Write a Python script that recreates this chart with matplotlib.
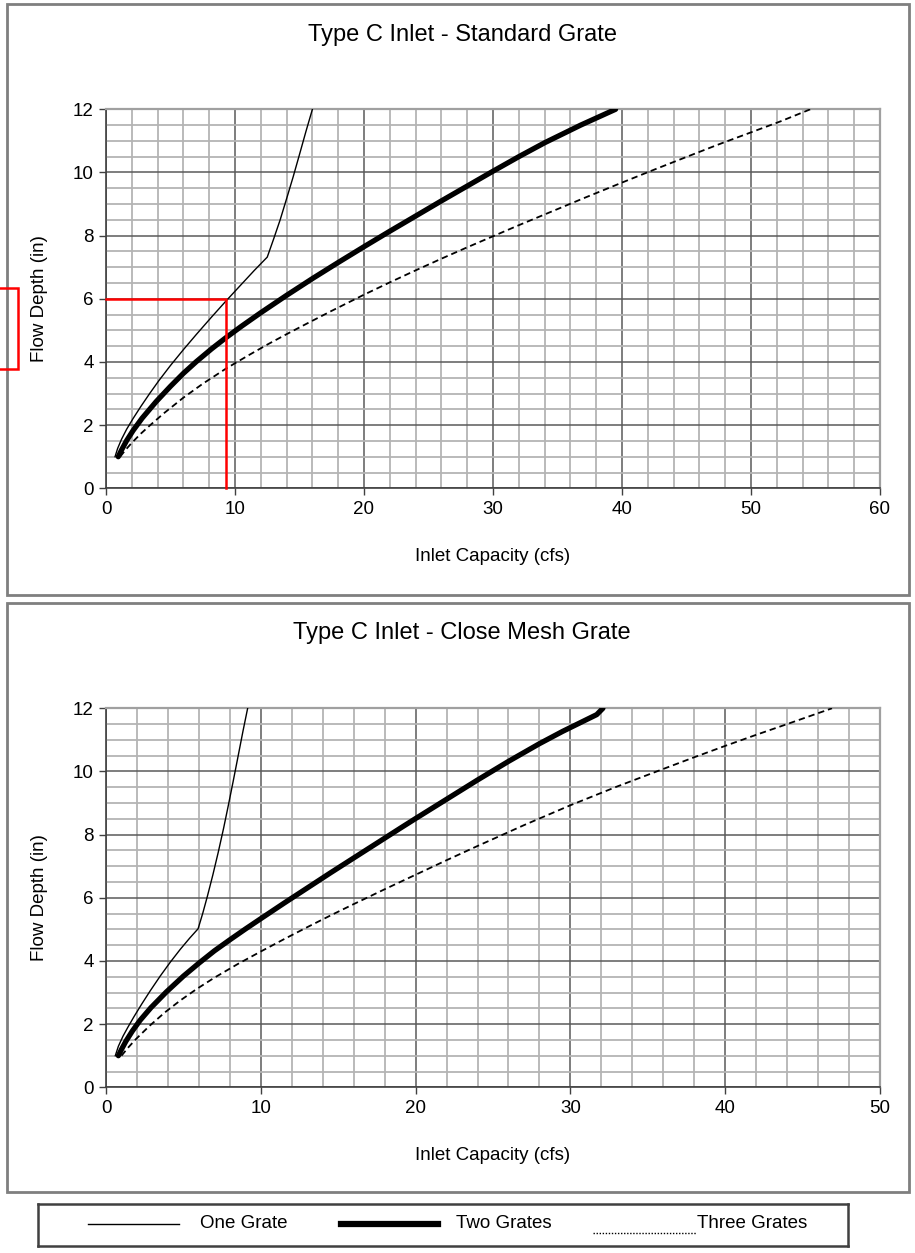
import numpy as np
import matplotlib
matplotlib.use("Agg")
import matplotlib.pyplot as plt
from matplotlib.patches import Rectangle
from matplotlib.lines import Line2D
from matplotlib.ticker import MultipleLocator

plt.rcParams['font.family'] = ['Liberation Sans', 'DejaVu Sans']

# --- Data (capacity in cfs, depth in inches) ---
# Standard grate
std_one_q = [0.7, 0.9, 1.2, 1.6, 2.1, 2.7, 3.4, 4.1, 5.0, 6.0, 7.0, 8.2, 9.3, 10.5, 11.5,
             12.5, 13.0, 13.5, 14.0, 14.5, 15.0, 15.5, 16.0]
std_one_d = [1.0, 1.26, 1.55, 1.87, 2.21, 2.59, 3.01, 3.41, 3.89, 4.39, 4.87, 5.43, 5.93, 6.46, 6.9,
             7.32, 7.9, 8.5, 9.17, 9.85, 10.57, 11.3, 12.0]
std_two_q = [0.95, 1.2, 1.6, 2.1, 2.8, 3.9, 5.0, 6.0, 7.0, 8.2, 9.3, 10.5, 12.0, 14.0, 16.0,
             18.0, 20.0, 22.0, 24.0, 26.0, 28.0, 30.0, 32.0, 34.0, 36.8, 39.5]
std_two_d = [1.0, 1.21, 1.51, 1.83, 2.22, 2.75, 3.23, 3.64, 4.01, 4.42, 4.77, 5.13, 5.56, 6.11, 6.64,
             7.15, 7.65, 8.14, 8.62, 9.1, 9.57, 10.04, 10.5, 10.94, 11.5, 12.0]
std_three_q = [1.1, 1.5, 2.0, 2.7, 3.4, 4.5, 6.0, 7.5, 9.3, 11.0, 12.5, 14.0, 15.5, 17.5, 20.0,
               22.0, 24.0, 26.0, 28.0, 30.0, 32.0, 34.0, 37.0, 40.0, 42.5, 45.3, 47.5, 50.0, 52.3, 54.6]
std_three_d = [1.0, 1.21, 1.44, 1.73, 1.99, 2.38, 2.87, 3.31, 3.79, 4.2, 4.55, 4.88, 5.2, 5.62, 6.13,
               6.52, 6.9, 7.27, 7.63, 7.98, 8.33, 8.67, 9.18, 9.68, 10.09, 10.54, 10.89, 11.27, 11.62, 12.0]

# Close mesh grate
mesh_one_q = [0.6, 0.8, 1.1, 1.4, 1.8, 2.3, 2.85, 3.5, 4.15, 4.8, 5.4, 5.95,
              6.25, 6.55, 6.9, 7.25, 7.6, 7.9, 8.2, 8.5, 8.85, 9.15]
mesh_one_d = [1.0, 1.3, 1.62, 1.89, 2.23, 2.63, 3.05, 3.52, 3.96, 4.37, 4.72, 5.02,
              5.51, 6.05, 6.72, 7.44, 8.21, 8.92, 9.65, 10.4, 11.28, 12.0]
mesh_two_q = [0.8, 1.0, 1.3, 1.7, 2.2, 2.9, 3.9, 5.0, 6.0, 7.0, 8.0, 9.0, 10.0, 11.5, 13.0,
              14.5, 16.0, 17.5, 19.0, 20.0, 22.0, 24.0, 26.0, 28.0, 29.5, 31.2, 31.7, 31.9, 32.1]
mesh_two_d = [1.0, 1.2, 1.47, 1.78, 2.12, 2.52, 3.02, 3.52, 3.93, 4.32, 4.67, 5.01, 5.34, 5.83, 6.31,
              6.79, 7.26, 7.73, 8.2, 8.51, 9.12, 9.73, 10.32, 10.88, 11.27, 11.68, 11.8, 11.9, 12.0]
mesh_three_q = [1.0, 1.4, 1.9, 2.8, 3.8, 4.8, 5.85, 7.0, 8.5, 10.0, 11.5, 13.0, 14.5, 16.0, 18.0,
                20.0, 22.0, 24.0, 27.0, 30.0, 33.0, 36.0, 38.0, 40.0, 42.0, 44.0, 46.9]
mesh_three_d = [1.0, 1.24, 1.51, 1.94, 2.37, 2.75, 3.11, 3.47, 3.9, 4.3, 4.69, 5.07, 5.44, 5.8, 6.27,
                6.73, 7.19, 7.64, 8.3, 8.93, 9.52, 10.08, 10.45, 10.81, 11.16, 11.5, 12.0]

# worked example marked in red on the standard grate chart
example_q = 9.3
example_d = 6.0

titles = ["Type C Inlet - Standard Grate", "Type C Inlet - Close Mesh Grate"]
x_max = [60, 50]
legend_labels = ["One Grate", "Two Grates", "Three Grates"]

W, H = 915, 1253
fig = plt.figure(figsize=(W / 100, H / 100), dpi=100)


def fx(px):
    return px / W


def fy(py):
    return 1 - py / H


FS = 13.5

# panel frames
for top, bot in [(4, 595), (603, 1192)]:
    fig.patches.append(Rectangle((fx(7), fy(bot)), fx(909) - fx(7), fy(top) - fy(bot),
                                 transform=fig.transFigure, fill=False,
                                 edgecolor='#7f7f7f', lw=2))

panels = [
    (std_one_q, std_one_d, std_two_q, std_two_d, std_three_q, std_three_d),
    (mesh_one_q, mesh_one_d, mesh_two_q, mesh_two_d, mesh_three_q, mesh_three_d),
]
ax_tops = [109.3, 708.3]
title_y = [35, 633]

for i, (q1, d1, q2, d2, q3, d3) in enumerate(panels):
    t = ax_tops[i]
    b = t + 379
    ax = fig.add_axes([fx(106), fy(b), fx(880) - fx(106), fy(t) - fy(b)])
    ax.set_xlim(0, x_max[i])
    ax.set_ylim(0, 12)
    ax.xaxis.set_major_locator(MultipleLocator(10))
    ax.xaxis.set_minor_locator(MultipleLocator(2))
    ax.yaxis.set_major_locator(MultipleLocator(2))
    ax.yaxis.set_minor_locator(MultipleLocator(0.5))
    ax.grid(which='minor', color='#b4b4b4', lw=1.3)
    ax.grid(which='major', color='#5a5a5a', lw=1.1)
    ax.set_axisbelow(True)
    ax.tick_params(which='major', length=5, width=1, color='#404040',
                   labelsize=FS, pad=4)
    ax.tick_params(which='minor', length=0)
    for side in ['left', 'bottom']:
        ax.spines[side].set_color('#404040')
        ax.spines[side].set_linewidth(1.2)
    for side in ['top', 'right']:
        ax.spines[side].set_color('#a0a0a0')
        ax.spines[side].set_linewidth(1.6)

    ax.plot(q1, d1, color='black', lw=1.0, zorder=3)
    ax.plot(q2, d2, color='black', lw=3.8, solid_capstyle='round',
            solid_joinstyle='round', zorder=3)
    ax.plot(q3, d3, color='black', lw=1.3, dashes=(3.5, 2.2), zorder=3)

    if i == 0:
        ax.plot([0, example_q, example_q], [example_d, example_d, 0],
                color='#ff0000', lw=1.8, zorder=4, clip_on=False)

    ax.set_xlabel("Inlet Capacity (cfs)", fontsize=FS)
    ax.xaxis.set_label_coords(0.5, -(556 - 488) / 379)
    ax.xaxis.label.set_va('center')
    ax.set_ylabel("Flow Depth (in)", fontsize=FS)
    ax.yaxis.set_label_coords(-(106 - 40) / 774, 0.5)
    ax.yaxis.label.set_va('center')

    fig.text(fx(462), fy(title_y[i]), titles[i], fontsize=17,
             ha='center', va='center')

# red callout box clipped at the left edge
fig.patches.append(Rectangle((fx(-4), fy(369)), fx(22), fy(288) - fy(369),
                             transform=fig.transFigure, fill=False,
                             edgecolor='#ff0000', lw=1.8))

# legend box
lax = fig.add_axes([fx(38), fy(1246), fx(848) - fx(38), fy(1204) - fy(1246)])
lax.set_xlim(38, 848)
lax.set_ylim(42, 0)
lax.set_xticks([])
lax.set_yticks([])
for s in lax.spines.values():
    s.set_color('#404040')
    s.set_linewidth(1.8)
lax.add_line(Line2D([88, 179], [20, 20], color='black', lw=1.0))
lax.text(200, 20, legend_labels[0], fontsize=FS, va='center', ha='left')
lax.add_line(Line2D([341, 438], [20, 20], color='black', lw=4.5))
lax.text(456, 20, legend_labels[1], fontsize=FS, va='center', ha='left')
lax.add_line(Line2D([593, 696], [29, 29], color='black', lw=1.0, dashes=(1, 1.2)))
lax.text(697, 20, legend_labels[2], fontsize=FS, va='center', ha='left')

fig.savefig("out.png", dpi=100, facecolor='white')
